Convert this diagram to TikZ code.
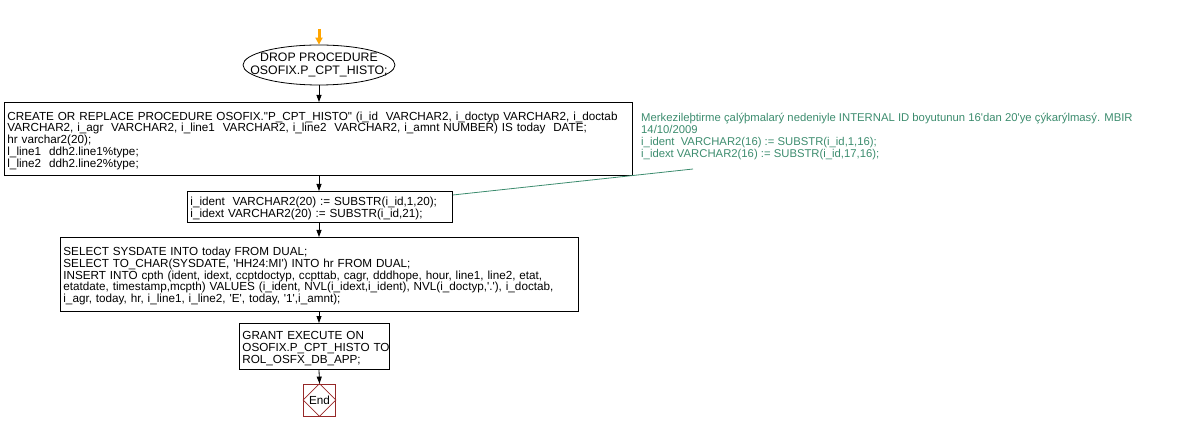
\documentclass[tikz,border=0pt]{standalone}
\usepackage{fontspec}
\setmainfont{Liberation Sans}[Ligatures=TeXOff]
\usetikzlibrary{shapes.geometric,arrows.meta}
\definecolor{cmt}{RGB}{60,140,110}
\definecolor{endred}{RGB}{150,40,40}
\definecolor{startor}{RGB}{255,165,0}
\begin{document}
\begin{tikzpicture}[x=1pt,y=-1pt,
  txt/.style={font=\fontsize{11.7}{11.8}\selectfont},
  stepbox/.style={draw,line width=0.8pt,txt,align=left,anchor=north west,inner xsep=3pt,inner ysep=0pt},
  arr/.style={line width=0.8pt,-{Triangle[length=7pt,width=5pt]}},
  cmtline/.style={draw=cmt,line width=0.8pt}]
\useasboundingbox (0,0) rectangle (1177,430);
\coordinate (start) at (319,29);
\node[draw,ellipse,line width=0.8pt,minimum width=152pt,minimum height=40pt,inner sep=0pt] (drop) at (319,65) {};
\node[font=\fontsize{12.3}{12.5}\selectfont,align=center,inner sep=0pt] (droptxt) at (drop.center) {DROP PROCEDURE\\OSOFIX.P\_CPT\_HISTO;};
\node[stepbox,text width=622pt,minimum height=73pt] (create) at (4,102) {\rule{0pt}{12pt}CREATE OR REPLACE PROCEDURE OSOFIX."P\_CPT\_HISTO" (i\_id\ \ VARCHAR2, i\_doctyp VARCHAR2, i\_doctab\\
VARCHAR2, i\_agr\ \ VARCHAR2, i\_line1\ \ VARCHAR2, i\_line2\ \ VARCHAR2, i\_amnt NUMBER) IS today\ \ DATE;\\
hr varchar2(20);\\
l\_line1\ \ ddh2.line1\%type;\\
l\_line2\ \ ddh2.line2\%type;};
\node[stepbox,text width=259pt,minimum height=31pt] (ident) at (187,191) {\rule{0pt}{12pt}i\_ident\ \ VARCHAR2(20) := SUBSTR(i\_id,1,20);\\
i\_idext VARCHAR2(20) := SUBSTR(i\_id,21);};
\node[stepbox,text width=512pt,minimum height=74pt] (insert) at (60,237) {\rule{0pt}{12pt}SELECT SYSDATE INTO today FROM DUAL;\\
SELECT TO\_CHAR(SYSDATE, 'HH24:MI') INTO hr FROM DUAL;\\
INSERT INTO cpth (ident, idext, ccptdoctyp, ccpttab, cagr, dddhope, hour, line1, line2, etat,\\
etatdate, timestamp,mcpth) VALUES (i\_ident, NVL(i\_idext,i\_ident), NVL(i\_doctyp,'.'), i\_doctab,\\
i\_agr, today, hr, i\_line1, i\_line2, 'E', today, '1',i\_amnt);};
\node[stepbox,text width=144pt,minimum height=46pt] (grant) at (239,323) {\rule{0pt}{12pt}GRANT EXECUTE ON\\
\mbox{OSOFIX.P\_CPT\_HISTO TO}\\
ROL\_OSFX\_DB\_APP;};
\node[draw=endred,line width=0.8pt,minimum size=32pt,inner sep=0pt] (endn) at (319.5,400) {};
\draw[endred,line width=0.8pt] (endn.north) -- (endn.east) -- (endn.south) -- (endn.west) -- cycle;
\node[txt] (endtxt) at (endn.center) {End};
\node[font=\fontsize{11.3}{12}\selectfont,text=cmt,align=left,anchor=north west,inner sep=0pt] (comment) at (641,113) {Merkezileþtirme çalýþmalarý nedeniyle INTERNAL ID boyutunun 16'dan 20'ye çýkarýlmasý. MBIR\\
14/10/2009\\
i\_ident\ \ VARCHAR2(16) := SUBSTR(i\_id,1,16);\\
i\_idext VARCHAR2(16) := SUBSTR(i\_id,17,16);};
\coordinate (cmtend) at (693,169);
\draw[startor,line width=3pt,-{Triangle[length=7pt,width=7pt]}] (start) -- (drop.north);
\draw[arr] (drop.south) -- (drop.south |- create.north);
\draw[arr] (create.south -| drop.south) -- (ident.north -| drop.south);
\draw[arr] (ident.south -| drop.south) -- (insert.north -| drop.south);
\draw[arr] (insert.south -| drop.south) -- (grant.north -| drop.south);
\draw[arr] (grant.south -| drop.south) -- (endn.north);
\draw[cmtline] (ident.east |- 0,195) -- (cmtend);
\end{tikzpicture}
\end{document}
